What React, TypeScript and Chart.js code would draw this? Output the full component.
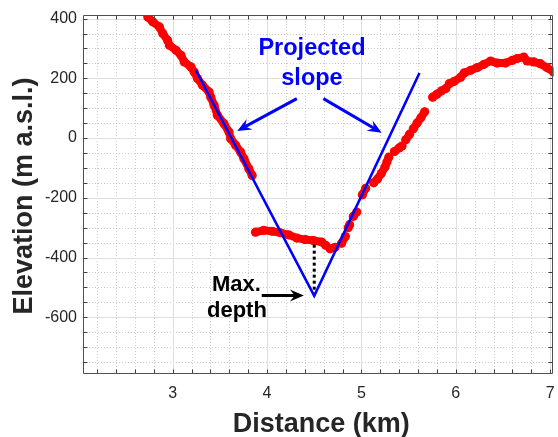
import React, { useEffect, useRef } from "react";
import { Chart, registerables } from "chart.js";

Chart.register(...registerables);

// ---- Data ----
// Bathymetric / topographic profile (null = gap between measured chains)
const profileDistKm: (number | null)[] = [
  2.737, 2.789, 2.86, 2.895, 2.947, 2.965, 3.036, 3.088, 3.123, 3.194, 3.228, 3.263, 3.316,
  3.386, 3.404, 3.439, 3.474, 3.544, 3.597, 3.615, 3.667, 3.72, 3.755, 3.807, 3.842,
  null,
  3.878, 3.965, 4.053, 4.141, 4.228, 4.316, 4.404, 4.492, 4.579, 4.621,
  null,
  4.668, 4.72,
  null,
  4.79, 4.83,
  null,
  4.86, 4.875,
  null,
  4.915, 4.95,
  null,
  5.01, 5.045,
  null,
  5.13, 5.17, 5.21, 5.25, 5.27, 5.29,
  null,
  5.35, 5.4, 5.43,
  null,
  5.47, 5.51,
  null,
  5.55, 5.59, 5.63, 5.67,
  null,
  5.755, 5.8, 5.85, 5.895,
  null,
  5.931, 5.983, 6.053, 6.088, 6.158, 6.228, 6.299, 6.368, 6.439, 6.526, 6.597, 6.649, 6.72,
  6.755, 6.825, 6.895, 6.965, 7.036,
];
const profileElevM: (number | null)[] = [
  405, 389, 372, 350, 327, 311, 294, 277, 255, 238, 221, 199, 177,
  154, 137, 110, 76, 48, 20, -2, -24, -47, -69, -103, -125,
  null,
  -315, -309, -312, -317, -324, -335, -340, -343, -348, -359,
  null,
  -371, -366,
  null,
  -352, -330,
  null,
  -300, -290,
  null,
  -262, -248,
  null,
  -190, -168,
  null,
  -150, -137, -119, -97, -80, -64,
  null,
  -45, -33, -27,
  null,
  -6, 13,
  null,
  31, 50, 68, 88,
  null,
  137, 147, 158, 166,
  null,
  182, 190, 204, 218, 227, 236, 247, 258, 251, 251, 260, 266, 271,
  258, 255, 249, 236, 221,
];

// Projected slope (V shape)
const slopeDistKm = [3.246, 4.5, 5.615];
const slopeElevM = [227, -528, 218];

// Max depth dotted marker
const depthDistKm = [4.5, 4.5];
const depthElevM = [-357, -522];

// Axis ticks
const xGridKm = [
  2.2, 2.4, 2.6, 2.8, 3, 3.2, 3.4, 3.6, 3.8, 4, 4.2, 4.4, 4.6, 4.8, 5, 5.2, 5.4, 5.6, 5.8, 6,
  6.2, 6.4, 6.6, 6.8, 7,
];
const xLabelKm = [3, 4, 5, 6, 7];
const yGridM = [
  -750, -700, -650, -600, -550, -500, -450, -400, -350, -300, -250, -200, -150, -100, -50, 0,
  50, 100, 150, 200, 250, 300, 350, 400,
];
const yLabelM = [-600, -400, -200, 0, 200, 400];

const xRangeKm = [2.05, 7.034];
const yRangeM = [-790, 412];

// Annotations (data coordinates)
const annotationTexts = [
  { text: "Projected", x: 4.476, y: 277, kind: "blue" },
  { text: "slope", x: 4.476, y: 177, kind: "blue" },
  { text: "Max.", x: 3.676, y: -513, kind: "black" },
  { text: "depth", x: 3.681, y: -600, kind: "black" },
];
const annotationArrows = [
  { x1: 4.316, y1: 132, x2: 3.684, y2: 24, kind: "blue" },
  { x1: 4.597, y1: 132, x2: 5.215, y2: 18, kind: "blue" },
  { x1: 3.944, y1: -527, x2: 4.39, y2: -527, kind: "black" },
];

const FONT = "'Liberation Sans', Arial, Helvetica, sans-serif";
const near = (a: number, list: number[]) => list.some((v) => Math.abs(v - a) < 1e-6);

function drawArrow(
  ctx: CanvasRenderingContext2D,
  x1: number, y1: number, x2: number, y2: number,
  color: string, width: number, headLen: number, headHalf: number
) {
  const ang = Math.atan2(y2 - y1, x2 - x1);
  const ux = Math.cos(ang), uy = Math.sin(ang);
  const nx = -uy, ny = ux;
  ctx.save();
  ctx.strokeStyle = color;
  ctx.fillStyle = color;
  ctx.lineWidth = width;
  ctx.lineCap = "butt";
  ctx.beginPath();
  ctx.moveTo(x1, y1);
  ctx.lineTo(x2 - headLen * 0.6 * ux, y2 - headLen * 0.6 * uy);
  ctx.stroke();
  ctx.beginPath();
  ctx.moveTo(x2, y2);
  ctx.lineTo(x2 - headLen * ux + headHalf * nx, y2 - headLen * uy + headHalf * ny);
  ctx.lineTo(x2 - headLen * 0.65 * ux, y2 - headLen * 0.65 * uy);
  ctx.lineTo(x2 - headLen * ux - headHalf * nx, y2 - headLen * uy - headHalf * ny);
  ctx.closePath();
  ctx.fill();
  ctx.restore();
}

const matlabPlugin = {
  id: "matlabLook",
  beforeDatasetsDraw(chart: any) {
    const { ctx, chartArea: a, scales } = chart;
    const xs = scales.x, ys = scales.y;
    ctx.save();
    ctx.lineWidth = 1;
    // minor dotted grid
    ctx.strokeStyle = "#cdcdcd";
    ctx.setLineDash([1, 2]);
    ctx.beginPath();
    xGridKm.forEach((v) => {
      if (near(v, xLabelKm)) return;
      const px = Math.round(xs.getPixelForValue(v)) + 0.5;
      ctx.moveTo(px, a.top);
      ctx.lineTo(px, a.bottom);
    });
    yGridM.forEach((v) => {
      if (near(v, yLabelM)) return;
      const py = Math.round(ys.getPixelForValue(v)) + 0.5;
      ctx.moveTo(a.left, py);
      ctx.lineTo(a.right, py);
    });
    ctx.stroke();
    // major solid grid
    ctx.setLineDash([]);
    ctx.strokeStyle = "#dedede";
    ctx.beginPath();
    xLabelKm.forEach((v) => {
      const px = Math.round(xs.getPixelForValue(v)) + 0.5;
      ctx.moveTo(px, a.top);
      ctx.lineTo(px, a.bottom);
    });
    yLabelM.forEach((v) => {
      const py = Math.round(ys.getPixelForValue(v)) + 0.5;
      ctx.moveTo(a.left, py);
      ctx.lineTo(a.right, py);
    });
    ctx.stroke();
    ctx.restore();
  },
  afterDatasetsDraw(chart: any) {
    const { ctx, chartArea: a, scales } = chart;
    const xs = scales.x, ys = scales.y;
    ctx.save();
    // axes box
    ctx.strokeStyle = "#505050";
    ctx.lineWidth = 1;
    const L = Math.round(a.left) + 0.5, R = Math.round(a.right) - 0.5;
    const T = Math.round(a.top) + 0.5, B = Math.round(a.bottom) - 0.5;
    ctx.beginPath();
    ctx.rect(L, T, R - L, B - T);
    ctx.stroke();
    // inward ticks
    ctx.strokeStyle = "#404040";
    ctx.beginPath();
    const tl = 4;
    xGridKm.forEach((v) => {
      const px = Math.round(xs.getPixelForValue(v)) + 0.5;
      ctx.moveTo(px, B);
      ctx.lineTo(px, B - tl);
      ctx.moveTo(px, T);
      ctx.lineTo(px, T + tl);
    });
    yGridM.forEach((v) => {
      const py = Math.round(ys.getPixelForValue(v)) + 0.5;
      ctx.moveTo(L, py);
      ctx.lineTo(L + tl, py);
      ctx.moveTo(R, py);
      ctx.lineTo(R - tl, py);
    });
    ctx.stroke();

    // annotation texts
    ctx.textAlign = "center";
    ctx.textBaseline = "alphabetic";
    annotationTexts.forEach((t) => {
      if (t.kind === "blue") {
        ctx.fillStyle = "#0000ff";
        ctx.font = `bold 23.5px ${FONT}`;
      } else {
        ctx.fillStyle = "#000000";
        ctx.font = `bold 22px ${FONT}`;
      }
      ctx.fillText(t.text, xs.getPixelForValue(t.x), ys.getPixelForValue(t.y));
    });
    // arrows
    annotationArrows.forEach((ar) => {
      const color = ar.kind === "blue" ? "#0000ff" : "#000000";
      drawArrow(
        ctx,
        xs.getPixelForValue(ar.x1), ys.getPixelForValue(ar.y1),
        xs.getPixelForValue(ar.x2), ys.getPixelForValue(ar.y2),
        color, 3, 14, 6
      );
    });

    // axis titles
    ctx.fillStyle = "#262626";
    ctx.font = `bold 27px ${FONT}`;
    ctx.textAlign = "center";
    ctx.textBaseline = "alphabetic";
    ctx.fillText("Distance (km)", (a.left + a.right) / 2 + 3, a.bottom + 58);
    ctx.save();
    ctx.translate(32, (a.top + a.bottom) / 2 + 1.5);
    ctx.rotate(-Math.PI / 2);
    ctx.fillText("Elevation (m a.s.l.)", 0, 0);
    ctx.restore();
    ctx.restore();
  },
};

export default function App() {
  const canvasRef = useRef<HTMLCanvasElement | null>(null);

  useEffect(() => {
    const canvas = canvasRef.current;
    if (!canvas) return;

    const profile = profileDistKm.map((x, i) => ({
      x: x === null ? NaN : x,
      y: profileElevM[i],
    }));
    const slope = slopeDistKm.map((x, i) => ({ x, y: slopeElevM[i] }));
    const depth = depthDistKm.map((x, i) => ({ x, y: depthElevM[i] }));

    const chart = new Chart(canvas, {
      type: "scatter",
      data: {
        datasets: [
          {
            data: profile as any,
            showLine: true,
            spanGaps: false,
            borderColor: "#ff0000",
            backgroundColor: "#ff0000",
            borderWidth: 8,
            borderCapStyle: "round",
            borderJoinStyle: "round",
            pointRadius: 4.6,
            pointBorderWidth: 0,
            pointBackgroundColor: "#ff0000",
            order: 3,
          } as any,
          {
            data: slope,
            showLine: true,
            borderColor: "#0000ff",
            borderWidth: 2.6,
            pointRadius: 0,
            order: 1,
          } as any,
          {
            data: depth,
            showLine: true,
            borderColor: "#000000",
            borderWidth: 3,
            borderDash: [3, 3],
            pointRadius: 0,
            order: 2,
          } as any,
        ],
      },
      options: {
        responsive: false,
        animation: false,
        events: [],
        layout: { padding: { top: 15, right: 1.5, left: 0, bottom: 0 } },
        plugins: { legend: { display: false }, tooltip: { enabled: false } },
        scales: {
          x: {
            type: "linear",
            min: xRangeKm[0],
            max: xRangeKm[1],
            afterBuildTicks: (scale: any) => {
              scale.ticks = xGridKm.map((v) => ({ value: v }));
            },
            afterFit: (scale: any) => {
              scale.height = 63;
              scale.paddingLeft = 0;
              scale.paddingRight = 0;
            },
            grid: { display: false, drawTicks: false },
            border: { display: false },
            ticks: {
              autoSkip: false,
              maxRotation: 0,
              minRotation: 0,
              padding: 10,
              color: "#262626",
              font: { family: FONT, size: 16 },
              callback: (v: any) => (near(Number(v), xLabelKm) ? String(Math.round(Number(v))) : ""),
            },
          },
          y: {
            type: "linear",
            min: yRangeM[0],
            max: yRangeM[1],
            afterBuildTicks: (scale: any) => {
              scale.ticks = yGridM.map((v) => ({ value: v }));
            },
            afterFit: (scale: any) => {
              scale.width = 83;
              scale.paddingTop = 0;
              scale.paddingBottom = 0;
            },
            grid: { display: false, drawTicks: false },
            border: { display: false },
            ticks: {
              autoSkip: false,
              padding: 6,
              color: "#262626",
              font: { family: FONT, size: 16 },
              callback: (v: any) => (near(Number(v), yLabelM) ? String(Number(v)) : ""),
            },
          },
        },
      } as any,
      plugins: [matlabPlugin as any],
    });

    return () => chart.destroy();
  }, []);

  return (
    <div
      style={{
        position: "fixed",
        left: 0,
        top: 0,
        width: 558,
        height: 437,
        background: "#ffffff",
      }}
    >
      <canvas ref={canvasRef} width={558} height={437} style={{ display: "block" }} />
    </div>
  );
}
